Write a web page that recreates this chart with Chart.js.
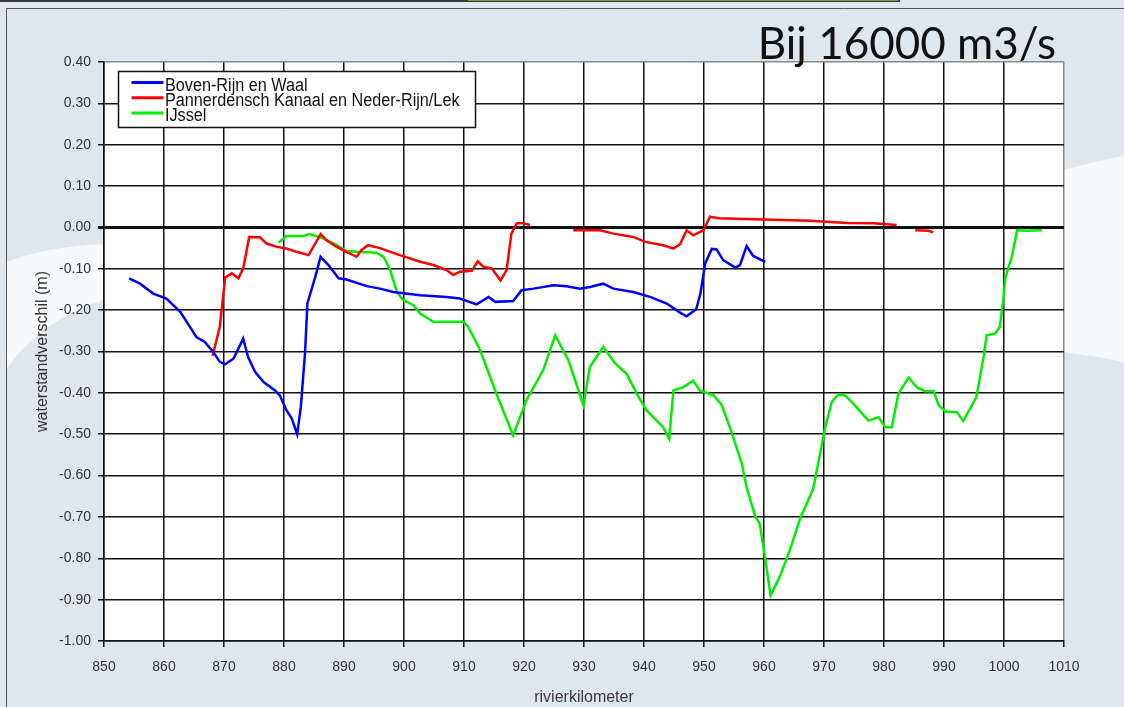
<!DOCTYPE html>
<html>
<head>
<meta charset="utf-8">
<title>Bij 16000 m3/s</title>
<script src="https://cdn.jsdelivr.net/npm/chart.js@4.4.1/dist/chart.umd.min.js"></script>
<style>
  html, body { margin: 0; padding: 0; background: #dfe7ee; }
  #grafica { width: 1124px; height: 707px; }
</style>
</head>
<body>
<div id="grafica"><canvas id="myChart" width="1124" height="707"></canvas></div>
<script>
// rivierkilometer en waterstandverschil (m) per tak
var bovenKm = [854.2, 856.0, 858.2, 860.4, 862.7, 864.3, 865.4, 866.8, 868.2, 869.3, 870.2, 871.6, 873.2, 874.0,
  875.2, 876.6, 878.5, 879.3, 880.4, 881.3, 882.2, 882.8, 883.5, 883.9, 884.3, 885.2, 886.1, 887.4, 889.1, 890.4,
  893.8, 896.0, 898.2, 902.7, 907.1, 909.3, 912.1, 914.1, 915.2, 918.2, 919.6, 921.6, 924.9, 927.1, 929.3, 931.0,
  933.2, 934.9, 938.2, 941.0, 943.8, 946.0, 947.1, 948.7, 949.4, 950.2, 951.3, 952.1, 953.2, 955.2, 956.0, 957.1,
  958.2, 960.2];
var bovenWs = [-0.123, -0.136, -0.160, -0.172, -0.204, -0.240, -0.265, -0.277, -0.301, -0.325, -0.331, -0.317, -0.269, -0.313,
  -0.350, -0.374, -0.394, -0.406, -0.442, -0.462, -0.500, -0.434, -0.305, -0.184, -0.164, -0.120, -0.071, -0.091, -0.123, -0.126,
  -0.142, -0.148, -0.156, -0.164, -0.168, -0.172, -0.186, -0.168, -0.180, -0.178, -0.152, -0.148, -0.140, -0.142, -0.148, -0.144,
  -0.136, -0.148, -0.156, -0.168, -0.184, -0.206, -0.215, -0.198, -0.160, -0.087, -0.052, -0.053, -0.079, -0.097, -0.091, -0.045,
  -0.069, -0.083];

var pannKm = [868.1, 869.3, 870.2, 871.3, 872.4, 873.2, 874.2, 876.0, 877.1, 878.8, 880.4, 882.1, 884.1, 885.2,
  886.1, 887.1, 888.8, 890.4, 892.1, 892.9, 894.0, 896.0, 899.3, 902.7, 904.9, 907.1, 908.2, 909.3, 911.3, 912.3,
  913.2, 914.6, 916.1, 917.1, 917.9, 918.8, 919.9, 921.0, 925.0, 928.2, 932.7, 934.9, 938.2, 940.2, 943.2, 944.9,
  946.0, 947.1, 948.2, 949.9, 951.0, 952.4, 959.9, 967.7, 973.8, 978.2, 982.1, 984.0, 985.2, 987.5, 988.2];
var pannWs = [-0.311, -0.240, -0.121, -0.111, -0.123, -0.099, -0.023, -0.024, -0.039, -0.047, -0.051, -0.059, -0.067, -0.039,
  -0.016, -0.031, -0.047, -0.059, -0.071, -0.055, -0.043, -0.050, -0.067, -0.083, -0.091, -0.103, -0.115, -0.107, -0.105, -0.082,
  -0.095, -0.099, -0.128, -0.103, -0.015, 0.010, 0.010, 0.006, null, -0.007, -0.007, -0.015, -0.023, -0.035, -0.043, -0.051,
  -0.041, -0.007, -0.019, -0.007, 0.026, 0.022, 0.019, 0.016, 0.011, 0.010, 0.006, null, -0.007, -0.008, -0.012];

var ijsselKm = [879.1, 880.4, 883.2, 884.3, 886.6, 888.8, 890.4, 892.1, 895.4, 896.6, 897.7, 898.8, 899.9, 901.6,
  902.7, 904.9, 909.9, 910.7, 912.7, 915.4, 918.2, 920.4, 923.2, 925.2, 927.4, 929.9, 931.0, 933.2, 935.2, 937.1,
  938.8, 940.4, 943.2, 944.2, 944.9, 946.6, 948.2, 949.3, 951.6, 952.9, 954.3, 955.4, 956.3, 957.1, 958.5, 959.3,
  960.2, 961.1, 962.7, 964.3, 966.0, 968.2, 968.8, 970.2, 971.3, 972.4, 973.5, 974.9, 977.4, 979.1, 980.2, 981.3,
  982.4, 984.1, 985.5, 986.8, 988.3, 989.1, 990.4, 992.1, 993.2, 995.4, 996.6, 997.1, 998.5, 999.3, 999.9, 1000.2,
  1001.3, 1002.2, 1003.8, 1006.3];
var ijsselWs = [-0.037, -0.021, -0.021, -0.016, -0.027, -0.043, -0.057, -0.059, -0.061, -0.071, -0.103, -0.156, -0.176, -0.188,
  -0.208, -0.228, -0.228, -0.240, -0.297, -0.402, -0.503, -0.418, -0.345, -0.261, -0.321, -0.430, -0.337, -0.289, -0.329, -0.354,
  -0.402, -0.442, -0.483, -0.511, -0.394, -0.386, -0.370, -0.394, -0.406, -0.428, -0.483, -0.531, -0.571, -0.628, -0.697, -0.717,
  -0.801, -0.890, -0.842, -0.781, -0.705, -0.632, -0.588, -0.483, -0.422, -0.404, -0.406, -0.426, -0.467, -0.459, -0.483, -0.483,
  -0.402, -0.363, -0.387, -0.396, -0.396, -0.430, -0.446, -0.446, -0.468, -0.410, -0.313, -0.261, -0.257, -0.241, -0.172, -0.123,
  -0.071, -0.007, -0.008, -0.007];

var series = ['Boven-Rijn en Waal', 'Pannerdensch Kanaal en Neder-Rijn/Lek', 'IJssel'];
var titel = 'Bij 16000 m3/s';

function punten(km, ws) {
  return km.map(function (k, i) { return { x: k, y: ws[i] }; });
}

var myChart = document.getElementById('myChart');

// achtergrond van de dia, kader en witte plotvlak
var achtergrond = {
  id: 'achtergrond',
  beforeDraw: function (chart) {
    var ctx = chart.ctx, a = chart.chartArea;
    ctx.save();
    ctx.fillStyle = '#dfe7ee';
    ctx.fillRect(0, 0, chart.width, chart.height);
    // lichte zwaai links en rechts
    ctx.fillStyle = 'rgba(255,255,255,0.75)';
    ctx.beginPath();
    ctx.moveTo(6, 262);
    ctx.quadraticCurveTo(50, 246, 104, 244);
    ctx.lineTo(104, 300);
    ctx.quadraticCurveTo(40, 320, 6, 370);
    ctx.closePath();
    ctx.fill();
    ctx.beginPath();
    ctx.moveTo(1064, 170);
    ctx.quadraticCurveTo(1100, 160, 1124, 156);
    ctx.lineTo(1124, 362);
    ctx.quadraticCurveTo(1095, 356, 1064, 352);
    ctx.closePath();
    ctx.fill();
    // balk bovenaan
    ctx.fillStyle = '#3a3a3a';
    ctx.fillRect(0, 0, 900, 2);
    ctx.fillStyle = '#7a9a3a';
    ctx.fillRect(468, 0, 430, 1);
    // kader
    ctx.strokeStyle = '#555';
    ctx.lineWidth = 1;
    ctx.beginPath();
    ctx.moveTo(6.5, 707);
    ctx.lineTo(6.5, 8.5);
    ctx.lineTo(1124, 8.5);
    ctx.stroke();
    ctx.fillStyle = '#ffffff';
    ctx.fillRect(a.left, a.top, a.right - a.left, a.bottom - a.top);
    ctx.restore();
  },
  afterDraw: function (chart) {
    var ctx = chart.ctx;
    ctx.save();
    ctx.fillStyle = '#111';
    ctx.font = '44px Lato';
    ctx.textAlign = 'right';
    ctx.textBaseline = 'alphabetic';
    ctx.fillText(titel, 1056, 59);
    ctx.restore();
  }
};

// legenda in het plotvlak, zoals in het origineel
var legenda = {
  id: 'legenda',
  afterDatasetsDraw: function (chart) {
    var ctx = chart.ctx;
    var x = 118.5, y = 71.5, w = 357, h = 56;
    ctx.save();
    ctx.fillStyle = '#fff';
    ctx.fillRect(x, y, w, h);
    ctx.strokeStyle = '#111';
    ctx.lineWidth = 1.5;
    ctx.strokeRect(x, y, w, h);
    ctx.font = '18px "Liberation Sans", Arial, sans-serif';
    ctx.textBaseline = 'alphabetic';
    chart.data.datasets.forEach(function (ds, i) {
      var ly = 82.5 + i * 15.2;
      ctx.strokeStyle = ds.borderColor;
      ctx.lineWidth = 3;
      ctx.beginPath();
      ctx.moveTo(131.5, ly);
      ctx.lineTo(163.5, ly);
      ctx.stroke();
      ctx.save();
      ctx.translate(165, ly + 8);
      ctx.scale(0.9, 1);
      ctx.fillStyle = '#111';
      ctx.fillText(ds.label, 0, 0);
      ctx.restore();
    });
    ctx.restore();
  }
};

function isNul(v) { return Math.abs(v) < 1e-6; }

var grafica = new Chart(myChart, {
  type: 'line',
  data: {
    datasets: [
      {
        label: series[0],
        data: punten(bovenKm, bovenWs),
        borderColor: '#0000ff',
        borderWidth: 2.5
      },
      {
        label: series[1],
        data: punten(pannKm, pannWs),
        borderColor: '#ff0000',
        borderWidth: 2.5
      },
      {
        label: series[2],
        data: punten(ijsselKm, ijsselWs),
        borderColor: '#00ee00',
        borderWidth: 2.5
      }
    ]
  },
  options: {
    responsive: false,
    animation: false,
    spanGaps: false,
    elements: { point: { radius: 0 }, line: { tension: 0 } },
    layout: { padding: { top: 62, right: 60, bottom: 0, left: 0 } },
    plugins: {
      legend: { display: false },
      tooltip: { enabled: false }
    },
    scales: {
      x: {
        type: 'linear',
        min: 850,
        max: 1010,
        afterFit: function (s) { s.height = 66; },
        ticks: {
          stepSize: 10,
          padding: 12,
          color: '#333',
          font: { family: '"Liberation Sans", Arial, sans-serif', size: 14 },
          callback: function (v) { return String(v); }
        },
        grid: {
          color: function (c) { return c.tick && c.tick.value === 1010 ? '#8a8a8a' : '#111'; },
          tickColor: '#111',
          lineWidth: 1.5,
          tickLength: 6
        },
        border: { color: '#111', width: 1.5 },
        title: {
          display: true,
          text: 'rivierkilometer',
          color: '#3d3540',
          padding: { top: 0, bottom: 0 },
          font: { family: '"Liberation Sans", Arial, sans-serif', size: 16 }
        }
      },
      y: {
        min: -1,
        max: 0.4,
        afterFit: function (s) { s.width = 104; },
        ticks: {
          stepSize: 0.1,
          padding: 7,
          color: '#333',
          font: { family: '"Liberation Sans", Arial, sans-serif', size: 14 },
          callback: function (v) { return isNul(v) ? '0.00' : v.toFixed(2); }
        },
        grid: {
          color: function (c) { return c.tick && Math.abs(c.tick.value - 0.4) < 1e-6 ? '#8a8a8a' : '#111'; },
          lineWidth: function (c) { return c.tick && isNul(c.tick.value) ? 3 : 1.5; },
          tickColor: '#111',
          tickLength: 6
        },
        border: { color: '#111', width: 1.5 },
        title: {
          display: true,
          text: 'waterstandverschil (m)',
          color: '#333',
          padding: { top: 33, bottom: 0 },
          font: { family: '"Liberation Sans", Arial, sans-serif', size: 16 }
        }
      }
    }
  },
  plugins: [achtergrond, legenda]
});
</script>
</body>
</html>
